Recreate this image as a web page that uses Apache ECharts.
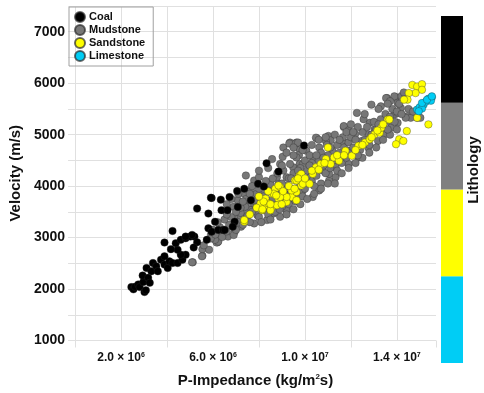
<!DOCTYPE html>
<html>
<head>
<meta charset="UTF-8">
<title>Velocity vs P-Impedance</title>
<style>
  * { margin: 0; padding: 0; }
  body { background: #fff; }
  #chart { width: 484px; height: 393px; }
</style>
<script src="https://cdn.jsdelivr.net/npm/echarts@6/dist/echarts.min.js"></script>
</head>
<body>
<div id="chart"></div>
<script>
// P-Impedance in units of 1e6 kg/m2s, velocity in m/s
const coal = [
  [2.45,2038],[2.54,1994],[2.61,2044],[2.75,2090],[2.81,2038],[3.02,1942],[3.08,1975],[2.97,2135],
  [2.94,2263],[3.18,2217],[3.25,2121],[3.11,2410],[3.39,2506],[3.32,2346],[3.53,2442],[3.60,2346],
  [3.74,2571],[3.89,2475],[4.03,2410],[4.10,2538],[3.89,2635],[4.24,2506],[4.46,2506],[4.67,2571],
  [4.81,2667],[4.60,2667],[4.46,2763],[4.17,2775],[3.89,2904],[4.38,2890],[4.60,2956],[4.81,2987],
  [5.02,3019],[5.19,3019],[5.31,2910],[5.16,2808],[4.24,3129],[5.31,3563],[5.94,3769],[5.80,3467],
  [6.37,3533],[6.09,3308],[5.80,3179],[5.94,3115],[5.73,2956],[6.23,3148],[6.44,3148],[5.91,3775],
  [6.34,3737],[6.63,3533],[6.72,3789],[7.05,3904],[7.08,3596],[7.36,3948],[7.65,3725],[7.96,4044],
  [8.21,3994],[8.33,4442],[8.85,4282],[6.94,3308],[6.86,3211],[6.51,3148],[5.09,3052],[4.81,3019],
  [9.96,4790]
];
const mudstone = [
  [5.12,2519],[5.54,2648],[5.54,2775],[5.83,2763],[6.01,3019],[6.20,2910],[5.09,2519],[5.52,2635],
  [6.16,2904],[7.08,3725],[6.23,2923],[5.91,3052],[7.33,3417],[7.08,3371],[7.43,4206],[7.79,4110],
  [8.00,4173],[8.57,4525],[8.92,4429],[9.06,4750],[9.35,4846],[9.63,4846],[9.77,4717],[7.65,3917],
  [7.86,3821],[8.07,3756],[8.28,3917],[8.50,4013],[8.85,4044],[9.20,4173],[9.49,4365],[9.77,4429],
  [7.79,3533],[7.57,3660],[7.36,3468],[7.22,3211],[6.23,3083],[6.65,3019],[6.94,3115],[6.09,2956],
  [8.21,3533],[8.50,3596],[8.78,3692],[9.06,3756],[9.35,3852],[9.63,3948],
  [9.32,4827],[9.60,4827],[9.74,4602],[9.03,4570],[10.51,4930],[11.02,4974],[11.12,4891],[11.69,5148],
  [12.26,5423],[12.89,5583],[13.57,5711],[13.96,5725],[14.17,5519],[14.46,5359],[14.60,5327],[14.88,5327],
  [13.89,5390],[13.60,5263],[13.03,5101],[12.47,4879],[11.90,4686],[11.33,4494],[10.77,4302],[10.20,4173],
  [11.33,4173],[11.05,4106],[10.62,3917],[10.34,3789],[9.91,3917],[9.49,3725],[9.20,3533],[8.92,3404],
  [8.64,3468],[8.35,3340],[7.93,3436],[7.65,3533],[7.79,3275],[11.90,4429],[12.33,4557],[12.75,4750],
  [13.18,4879],[13.46,5006],[13.74,5134],[14.03,5230],[12.75,5006],[12.18,5006],[11.62,4879],[11.19,4686],
  [10.91,4557],[10.34,4557],[9.91,4429],[10.62,4750],[10.06,4686],[9.63,4557],[9.35,4429],[9.06,4302],
  [8.78,4173],[8.50,4044],[8.21,3917],[8.07,3789],[7.79,3660],[7.50,3725],[7.36,3852],[11.33,4365],
  [11.62,4557],[10.77,4494],[11.05,4237],[7.08,3275],[6.51,3148],[7.22,3404],
  [13.53,5711],[13.89,5744],[12.82,5231],[11.69,5166],[11.90,5083],[10.91,4879],[10.48,4942],[9.70,4846],
  [14.38,5327],[15.02,5327],[14.03,5615],[14.03,5423],
  [5.60,2850],[5.90,2980],[6.10,3060],[6.30,3200],[6.00,3150],[6.40,3010],[6.60,3120],[6.70,3250],
  [6.50,3350],[6.80,3400],[6.90,3050],[7.00,3150],[7.10,3300],[7.20,3480],[7.30,3250],[7.40,3600],
  [7.50,3420],[7.60,3300],[7.70,3500],[7.80,3700],[7.90,3600],[8.00,3400],[7.45,3750],[7.20,3580],
  [7.90,3850],[8.00,3950],[8.10,3650],[8.20,3800],[8.30,3550],[8.40,3700],[8.50,3880],[8.60,3750],
  [8.70,3600],[8.80,3850],[8.90,3950],[9.00,3700],[8.30,4100],[8.60,4150],[8.80,4250],[9.00,4400],
  [8.40,3450],[8.70,3500],[9.00,3600],[9.10,3850],[9.20,4000],[9.30,4150],[9.40,3950],[9.50,4250],
  [9.60,3850],[9.70,4100],[9.80,4350],[9.90,4150],[10.00,3950],[10.10,4300],[9.30,3650],[9.60,3700],
  [9.90,3800],[10.00,4500],[10.20,4600],[9.50,4600],[10.30,4100],[10.40,4350],[10.50,4200],[10.60,4500],
  [10.70,4050],[10.80,4400],[10.90,4250],[11.00,4600],[11.10,4350],[10.40,4000],[10.70,4650],[10.95,4800],
  [10.30,4450],[11.20,4500],[11.40,4300],[11.50,4650],[11.60,4450],[11.70,4750],[11.80,4550],[11.90,4850],
  [12.00,4650],[11.40,4800],[11.65,4950],[12.00,4950],[12.10,4750],[12.20,4900],[12.40,4700],[12.50,5050],
  [12.60,4900],[12.70,5150],[12.90,5000],[13.00,5250],[12.30,5150],[12.55,5300],[13.10,5100],[13.30,5300],
  [13.40,5150],[13.50,5400],[13.70,5350],[13.80,5500],[13.90,5250],[14.00,5450],[13.30,5550],[13.70,5650],
  [14.10,5600],[14.20,5750],[14.30,5820],
  [8.10,3300],[8.50,3350],[8.90,3550],[9.20,3450],[9.50,3550],[9.80,3650],[10.10,3750],[10.40,3850],
  [10.70,3950],[11.00,4050],[11.30,4050],[11.60,4250],[11.90,4350],[12.20,4450],[12.50,4550],[12.80,4650],
  [13.10,4750],[13.40,4900],[13.70,5000],[14.00,5100],
  [8.00,4300],[8.40,4350],[9.20,4650],[9.50,4750],[9.90,4700],[10.30,4800],[10.60,4900],[11.30,5000],
  [12.00,5200],[12.60,5400],[13.20,5500],[13.60,5600],[10.90,4950],[11.80,5050],
  [9.00,4050],[9.40,4150],[9.70,4300],[10.20,4400],[10.50,4600],[10.80,4550],[11.10,4750],[11.50,4900],
  [12.10,5050],[12.30,4600],[12.80,4800],[13.20,5200],[13.60,5100],[14.20,5400],[14.50,5500],[14.70,5450],
  [6.20,3300],[6.60,3450],[6.90,3600],[7.00,3500],[7.30,3700],[7.60,3850],[7.70,4000],[7.10,3850],
  [6.80,3750],[6.60,3650]
];
const sandstone = [
  [7.36,3308],[8.07,3660],[8.28,3756],[8.57,3852],[8.71,3948],[8.92,3981],[8.85,3756],[9.06,3821],
  [9.20,3692],[9.42,3789],[9.63,3885],[9.56,4110],[9.77,4206],[9.84,4013],[8.57,3596],[8.35,3629],
  [8.78,3629],[8.99,3648],[7.36,3340],[8.14,3533],[8.43,3660],[8.64,3852],[8.85,4013],[9.20,3789],
  [9.42,3917],[9.63,4110],[9.84,4237],[9.91,4044],[10.20,4044],[10.48,4365],[10.69,4429],[10.91,4525],
  [11.12,4429],[11.26,4557],[11.48,4494],[11.00,4750],[11.76,4686],[12.04,4590],[12.33,4782],[12.61,4846],
  [12.82,4910],[13.03,5006],[13.25,5038],[13.32,5134],[13.60,5295],[10.34,4237],[9.63,3725],[8.92,3789],
  [8.50,3533],[7.60,3450],[7.90,3580],[8.20,3700],[8.50,3650],[8.75,3820],[9.05,3900],[9.30,4000],
  [9.55,3950],[9.70,4150],[10.00,4150],[10.30,4300],[10.60,4320],[10.85,4450],[11.40,4600],[11.70,4600],
  [12.20,4700],[12.50,4800],[12.90,4950],[13.15,5080],[13.40,5200],[8.00,3800],[8.40,3900],[8.15,3550],
  [14.67,5967],[14.88,5936],[15.09,5981],[15.09,5871],[14.81,5808],[14.52,5808],[14.46,5680],[14.31,5680],
  [14.88,5327],[15.37,5199],[14.43,5070],[14.10,4910],[14.28,4879],[13.96,4814],[13.67,5295]
];
const limestone = [
  [14.88,5487],[14.99,5532],[15.16,5583],[15.28,5647],[15.37,5699],[15.52,5725],[15.48,5660],[15.09,5506],
  [14.95,5455],[15.09,5615],[15.31,5680],[15.52,5744]
];

const lithNames = ['Coal', 'Mudstone', 'Sandstone', 'Limestone'];
const lithColors = ['#000000', '#777777', '#ffff00', '#00cdf5'];
const barColors = ['#000000', '#808080', '#ffff00', '#00cdf5'];
// colour bar, bottom to top
const barOrder = ['Limestone', 'Sandstone', 'Mudstone', 'Coal'];

const xTickValues = [2, 6, 10, 14];
const xTickLabels = ['2.0 × 10{s|6}', '6.0 × 10{s|6}', '1.0 × 10{s|7}', '1.4 × 10{s|7}'];
const yTickLabels = [1000, 2000, 3000, 4000, 5000, 6000, 7000];

const chart = echarts.init(document.getElementById('chart'));
const font = 'Liberation Sans, Arial, sans-serif';
const gridColor = '#e0e0e0';

function scatter(name, data) {
  const i = lithNames.indexOf(name);
  return {
    name, type: 'scatter', data, symbolSize: 7.5,
    xAxisIndex: 0, yAxisIndex: 0,
    itemStyle: { color: lithColors[i], borderColor: 'rgba(40,40,40,0.7)', borderWidth: 0.5, opacity: 1 }
  };
}

const series = [
  scatter('Mudstone', mudstone),
  scatter('Sandstone', sandstone),
  scatter('Coal', coal),
  scatter('Limestone', limestone)
];
barOrder.forEach(n => {
  series.push({
    name: 'bar-' + n, type: 'bar', stack: 'lith', data: [1], barWidth: '100%',
    xAxisIndex: 2, yAxisIndex: 1, silent: true,
    itemStyle: { color: barColors[lithNames.indexOf(n)] }
  });
});

chart.setOption({
  animation: false,
  textStyle: { fontFamily: font },
  grid: [
    { left: 67, right: 48, top: 6, bottom: 48 },
    { left: 441, width: 22, top: 16, height: 347 }
  ],
  legend: {
    data: lithNames, orient: 'vertical', left: 69, top: 7,
    padding: [4, 8, 4, 5], itemGap: 1, itemWidth: 10, itemHeight: 10,
    borderColor: '#a0a0a0', borderWidth: 1, icon: 'circle',
    textStyle: { fontFamily: font, fontSize: 11, fontWeight: 'bold', color: '#111', padding: [0, 0, 0, -1] }
  },
  xAxis: [
    {
      type: 'value', min: 0, max: 15.7, interval: 2, gridIndex: 0,
      axisLine: { show: false }, axisTick: { show: false },
      splitLine: { show: true, showMaxLine: false, lineStyle: { color: gridColor } },
      axisLabel: {
        margin: 11, color: '#111', fontFamily: font, fontSize: 12, fontWeight: 'bold',
        showMaxLabel: false,
        formatter: v => { const k = xTickValues.indexOf(v); return k < 0 ? '' : xTickLabels[k]; },
        rich: { s: { fontSize: 7, fontWeight: 'bold', verticalAlign: 'top', padding: [0, 0, 6, 0] } }
      },
      name: 'P-Impedance (kg/m{s|2}s)', nameLocation: 'middle', nameGap: 32,
      nameTextStyle: {
        fontFamily: font, fontSize: 15, fontWeight: 'bold', color: '#111',
        rich: { s: { fontSize: 8, fontWeight: 'bold', padding: [0, 0, 8, 0] } }
      }
    },
    {
      type: 'value', min: 0, max: 15.7, interval: 4, gridIndex: 0, position: 'bottom',
      axisLine: { show: false }, splitLine: { show: false }, axisLabel: { show: false },
      axisTick: { show: true, length: 7, lineStyle: { color: gridColor } }
    },
    { type: 'category', data: ['lith'], gridIndex: 1, show: false }
  ],
  yAxis: [
    {
      type: 'value', min: 1000, max: 7500, interval: 500, gridIndex: 0,
      axisLine: { show: false },
      axisTick: { show: true, length: 7, lineStyle: { color: gridColor } },
      splitLine: { show: true, lineStyle: { color: gridColor } },
      axisLabel: {
        margin: 10, color: '#111', fontFamily: font, fontSize: 14, fontWeight: 'bold',
        formatter: v => yTickLabels.includes(v) ? String(v) : ''
      },
      name: 'Velocity (m/s)', nameLocation: 'middle', nameGap: 51,
      nameTextStyle: { fontFamily: font, fontSize: 15, fontWeight: 'bold', color: '#111' }
    },
    { type: 'value', min: 0, max: 4, gridIndex: 1, show: false }
  ],
  graphic: [{
    type: 'text', x: 474, y: 170, rotation: Math.PI / 2,
    style: { text: 'Lithology', font: 'bold 15px ' + font, fill: '#111', align: 'center', verticalAlign: 'middle' }
  }],
  series
});
</script>
</body>
</html>
